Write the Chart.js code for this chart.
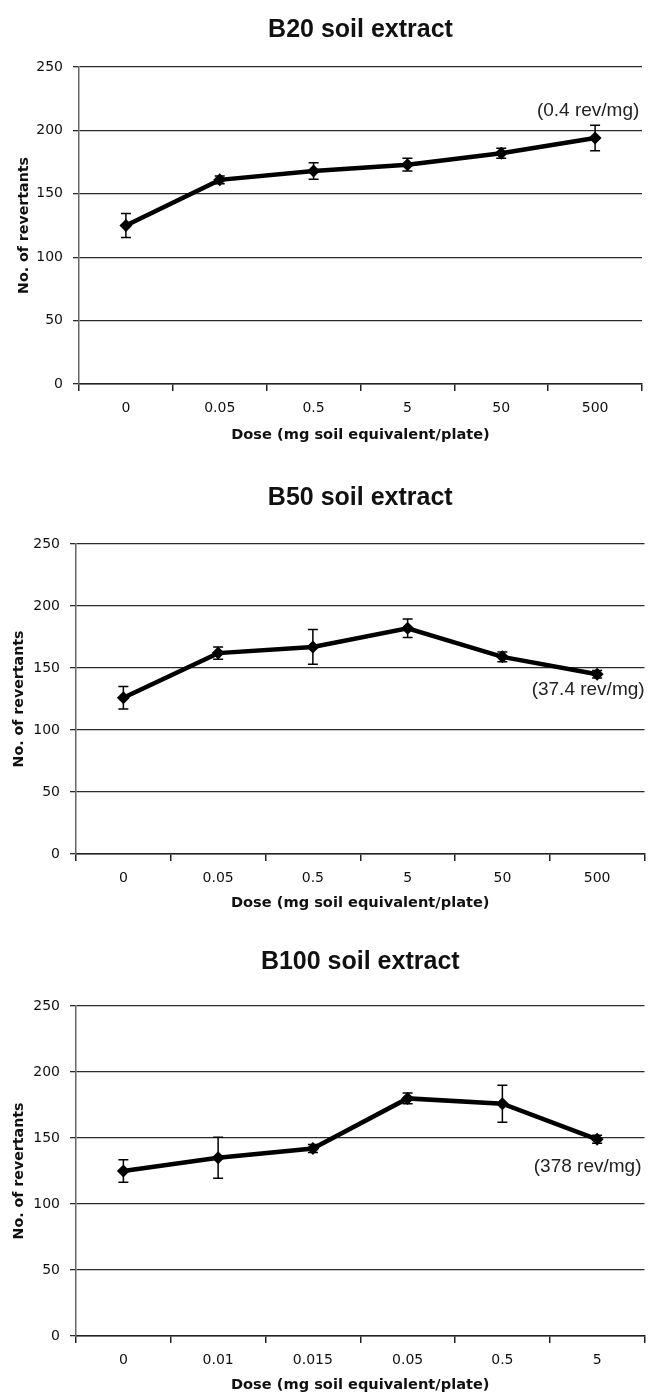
<!DOCTYPE html>
<html>
<head>
<meta charset="utf-8">
<script src="https://cdn.jsdelivr.net/npm/chart.js@4.4.1/dist/chart.umd.min.js"></script>
<style>
  html, body { margin: 0; padding: 0; background: #fff; }
  .panel { position: absolute; left: 0; width: 651px; }
</style>
</head>
<body>
<div class="panel" style="top:0px;height:460px"><canvas id="b20" width="651" height="460"></canvas></div>
<div class="panel" style="top:460px;height:470px"><canvas id="b50" width="651" height="470"></canvas></div>
<div class="panel" style="top:930px;height:466px"><canvas id="b100" width="651" height="466"></canvas></div>
<script>
// doses (mg soil equivalent/plate)
const dosesA = ['0', '0.05', '0.5', '5', '50', '500'];
const dosesB = ['0', '0.01', '0.015', '0.05', '0.5', '5'];

// revertants per plate, mean and error
const b20Mean = [125, 161, 168, 173, 182, 194];
const b20Err = [9.5, 3, 6.5, 5, 4, 10];
const b50Mean = [126, 162, 167, 182, 159, 145];
const b50Err = [9, 5, 14, 7.5, 4, 3];
const b100Mean = [125, 135, 142, 180, 176, 149];
const b100Err = [8.5, 15.5, 3, 4, 14, 3];

const yMin = 0, yMax = 250, yStep = 50;

// error bars from the y scale
const errorBars = {
  id: 'errorBars',
  afterDatasetsDraw(chart, args, opts) {
    const ctx = chart.ctx;
    const y = chart.scales.y;
    const meta = chart.getDatasetMeta(0);
    const ds = chart.data.datasets[0];
    ctx.save();
    ctx.strokeStyle = '#000';
    ctx.lineWidth = 1.5;
    meta.data.forEach((pt, i) => {
      const v = ds.data[i], e = opts.err[i];
      const top = y.getPixelForValue(v + e);
      const bot = y.getPixelForValue(v - e);
      ctx.beginPath();
      ctx.moveTo(pt.x, top); ctx.lineTo(pt.x, bot);
      ctx.moveTo(pt.x - 5, top); ctx.lineTo(pt.x + 5, top);
      ctx.moveTo(pt.x - 5, bot); ctx.lineTo(pt.x + 5, bot);
      ctx.stroke();
    });
    ctx.restore();
  }
};

// rev/mg note next to the last point
const noteLabel = {
  id: 'noteLabel',
  afterDraw(chart, args, opts) {
    const meta = chart.getDatasetMeta(0);
    const pt = meta.data[meta.data.length - 1];
    const ctx = chart.ctx;
    ctx.save();
    ctx.font = '19px "Liberation Sans", Arial, sans-serif';
    ctx.fillStyle = '#222';
    ctx.textAlign = 'center';
    ctx.textBaseline = 'middle';
    ctx.fillText(opts.text, pt.x + opts.dx, pt.y + opts.dy);
    ctx.restore();
  }
};

function makeChart(id, title, labels, mean, err, note, lay) {
  const canvas = document.getElementById(id);
  return new Chart(canvas, {
    type: 'line',
    data: {
      labels,
      datasets: [{
        data: mean,
        borderColor: '#000',
        backgroundColor: '#000',
        borderWidth: 4.5,
        pointStyle: 'rectRot',
        pointRadius: 6.5,
        pointBorderWidth: 0,
        tension: 0,
      }],
    },
    options: {
      responsive: false,
      animation: false,
      devicePixelRatio: 1,
      layout: { padding: { left: 0, right: lay.right, top: 0, bottom: 0 } },
      plugins: {
        legend: { display: false },
        tooltip: { enabled: false },
        title: {
          display: true,
          text: title,
          fullSize: false,
          color: '#111',
          font: { family: '"Liberation Sans", Arial, sans-serif', size: 25, weight: 'bold', lineHeight: 1.2 },
          padding: { top: lay.titleTop, bottom: lay.titleBottom },
        },
        errorBars: { err },
        noteLabel: note,
      },
      scales: {
        x: {
          offset: true,
          grid: { offset: true, drawOnChartArea: false, drawTicks: true, tickLength: 7, color: '#222', lineWidth: 1.5 },
          border: { display: true, color: '#222', width: 1.5 },
          ticks: { color: '#111', padding: 8.5, font: { family: '"DejaVu Sans", Verdana, sans-serif', size: 14 }, maxRotation: 0 },
          title: {
            display: true,
            text: 'Dose (mg soil equivalent/plate)',
            color: '#111',
            font: { family: '"DejaVu Sans", Verdana, sans-serif', size: 14.6, weight: 'bold', lineHeight: 1.2 },
            padding: { top: 0, bottom: lay.xTitleBottom },
          },
          afterFit: (s) => { s.height = lay.xHeight; },
        },
        y: {
          min: yMin,
          max: yMax,
          ticks: { stepSize: yStep, color: '#111', padding: 10, font: { family: '"DejaVu Sans", Verdana, sans-serif', size: 14 } },
          grid: { color: '#2a2a2a', lineWidth: 1.3, tickLength: 6 },
          border: { display: true, color: '#666', width: 1.5 },
          title: {
            display: true,
            text: 'No. of revertants',
            color: '#111',
            font: { family: '"DejaVu Sans", Verdana, sans-serif', size: 14.2, weight: 'bold', lineHeight: 1.2 },
            padding: { top: lay.yTitleLeft, bottom: 0 },
          },
          afterFit: (s) => { s.width = lay.yWidth; },
        },
      },
    },
    plugins: [errorBars, noteLabel],
  });
}

makeChart('b20', 'B20 soil extract', dosesA, b20Mean, b20Err,
  { text: '(0.4 rev/mg)', dx: -7, dy: -27 },
  { right: 9, titleTop: 15, titleBottom: 22, xHeight: 76, xTitleBottom: 16, yWidth: 79, yTitleLeft: 15.5 });

makeChart('b50', 'B50 soil extract', dosesA, b50Mean, b50Err,
  { text: '(37.4 rev/mg)', dx: -9, dy: 16 },
  { right: 1, titleTop: 23, titleBottom: 31, xHeight: 76, xTitleBottom: 18, yWidth: 76, yTitleLeft: 11 });

makeChart('b100', 'B100 soil extract', dosesB, b100Mean, b100Err,
  { text: '(378 rev/mg)', dx: -9.5, dy: 27 },
  { right: 1, titleTop: 17, titleBottom: 29, xHeight: 60, xTitleBottom: 2, yWidth: 76, yTitleLeft: 11 });
</script>
</body>
</html>
